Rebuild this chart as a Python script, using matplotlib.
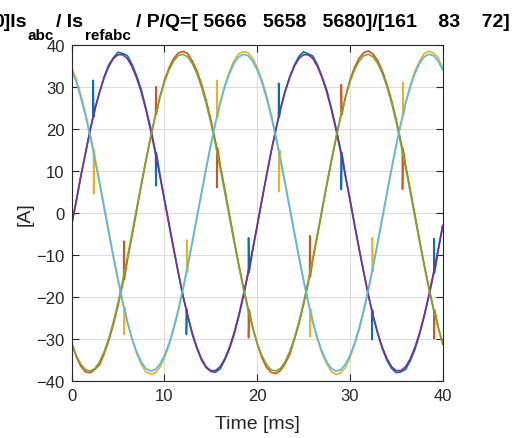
import numpy as np
import matplotlib
matplotlib.use("Agg")
import matplotlib.pyplot as plt

# time axis [ms], sampled every 0.5 ms
t_ms = [0.0, 0.5, 1.0, 1.5, 2.0, 2.5, 3.0, 3.5, 4.0, 4.5,
        5.0, 5.5, 6.0, 6.5, 7.0, 7.5, 8.0, 8.5, 9.0, 9.5,
        10.0, 10.5, 11.0, 11.5, 12.0, 12.5, 13.0, 13.5, 14.0, 14.5,
        15.0, 15.5, 16.0, 16.5, 17.0, 17.5, 18.0, 18.5, 19.0, 19.5,
        20.0, 20.5, 21.0, 21.5, 22.0, 22.5, 23.0, 23.5, 24.0, 24.5,
        25.0, 25.5, 26.0, 26.5, 27.0, 27.5, 28.0, 28.5, 29.0, 29.5,
        30.0, 30.5, 31.0, 31.5, 32.0, 32.5, 33.0, 33.5, 34.0, 34.5,
        35.0, 35.5, 36.0, 36.5, 37.0, 37.5, 38.0, 38.5, 39.0, 39.5,
        40.0]

# measured phase currents Is_abc [A]
is_a = [-2.6, 2.7, 8.9, 14.2, 19.9, 24.8, 28.6, 32.4, 35.2, 36.9, 38.2, 37.9, 37.4, 35.3, 32.6, 29.3, 24.9, 20.3, 14.9, 9.3, 3.2,
        -2.6, -8.5, -14.3, -19.9, -24.4, -28.9, -32.3, -35.1, -36.9, -37.8, -38.0, -37.2, -35.1, -32.5, -29.1, -24.9, -20.1, -14.8, -9.2, -3.2,
        2.8, 8.7, 14.5, 19.6, 24.7, 28.9, 32.3, 35.1, 37.2, 38.3, 37.8, 37.3, 35.2, 32.4, 29.2, 24.9, 20.2, 14.9, 9.1, 3.3,
        -2.7, -8.6, -14.2, -19.8, -24.6, -28.8, -32.4, -35.2, -37.1, -38.1, -37.9, -37.3, -35.3, -32.6, -29.0, -24.8, -20.0, -14.9, -9.3, -3.3]
is_b = [-31.0, -34.3, -36.6, -37.9, -38.1, -37.3, -36.2, -33.6, -30.4, -26.6,
        -22.1, -17.0, -11.4, -5.6, 0.4, 6.4, 12.2, 17.7, 22.9, 27.5,
        31.5, 34.5, 36.7, 38.0, 38.4, 37.9, 36.1, 33.8, 30.6, 26.7,
        22.2, 17.0, 11.5, 5.7, -0.3, -6.3, -12.1, -17.5, -22.6, -27.1,
        -31.2, -34.5, -36.8, -38.0, -38.3, -37.6, -36.0, -33.8, -30.3, -26.5,
        -21.9, -16.9, -11.3, -5.5, 0.5, 6.5, 12.1, 17.6, 22.8, 27.4,
        31.6, 34.6, 36.8, 38.1, 38.5, 37.7, 36.2, 33.7, 30.5, 26.6,
        22.1, 16.9, 11.4, 5.6, -0.4, -6.4, -12.2, -17.6, -22.7, -27.0,
        -31.3]
is_c = [34.5, 31.8, 27.9, 23.6, 18.7, 13.3, 7.6, 1.6, -4.3, -10.2,
        -15.8, -21.1, -26.0, -30.1, -33.5, -36.1, -37.9, -38.4, -38.2, -36.8,
        -34.6, -31.6, -27.8, -23.4, -18.4, -13.0, -7.3, -1.4, 4.5, 10.4,
        16.0, 21.3, 26.1, 30.3, 33.6, 36.2, 37.8, 38.3, 38.1, 36.8,
        34.6, 31.7, 28.0, 23.5, 18.6, 13.2, 7.5, 1.5, -4.4, -10.3,
        -15.9, -21.0, -26.1, -30.2, -33.6, -36.0, -37.8, -38.5, -38.1, -36.9,
        -34.5, -31.5, -27.9, -23.5, -18.5, -12.9, -7.4, -1.5, 4.6, 10.3,
        16.1, 21.2, 26.2, 30.2, 33.7, 36.1, 37.9, 38.4, 38.0, 36.9,
        34.4]

# switching spikes on the measured currents: time, value before, spike tip
spk_a_t = [2.3, 9.05, 12.35, 19.05, 22.3, 29.05, 32.35, 39.05]
spk_a_from = [22.8, 14.3, -23.0, -14.2, 22.7, 14.3, -23.2, -14.3]
spk_a_tip = [31.5, 6.4, -29.0, -6.0, 30.8, 5.5, -30.2, -6.2]
spk_b_t = [5.6, 9.05, 15.65, 19.05, 25.65, 29.05, 35.65, 39.05]
spk_b_from = [-15.9, 23.4, 15.4, -23.1, -15.2, 23.3, 15.2, -23.1]
spk_b_tip = [-6.8, 30.0, 6.0, -29.8, -5.5, 30.5, 5.6, -30.0]
spk_c_t = [2.35, 5.65, 12.4, 15.65, 22.35, 25.7, 32.4, 35.7]
spk_c_from = [14.9, -22.6, -14.1, 22.7, 14.8, -23.0, -14.0, 23.2]
spk_c_tip = [4.5, -29.0, -6.5, 31.5, 5.0, -29.5, -6.0, 31.0]

# reference currents Is_refabc [A]
ref_a = [-3.0, 3.0, 8.8, 14.4, 19.7, 24.5, 28.7, 32.1, 34.8, 36.7, 37.6, 37.6, 36.7, 34.8, 32.1, 28.7, 24.5, 19.7, 14.4, 8.8, 3.0,
         -3.0, -8.8, -14.4, -19.7, -24.5, -28.7, -32.1, -34.8, -36.7, -37.6, -37.6, -36.7, -34.8, -32.1, -28.7, -24.5, -19.7, -14.4, -8.8, -3.0,
         3.0, 8.8, 14.4, 19.7, 24.5, 28.7, 32.1, 34.8, 36.7, 37.6, 37.6, 36.7, 34.8, 32.1, 28.7, 24.5, 19.7, 14.4, 8.8, 3.0,
         -3.0, -8.8, -14.4, -19.7, -24.5, -28.7, -32.1, -34.8, -36.7, -37.6, -37.6, -36.7, -34.8, -32.1, -28.7, -24.5, -19.7, -14.4, -8.8, -3.0]
ref_b = [-31.1, -34.0, -36.1, -37.4, -37.7, -37.1, -35.5, -33.1, -29.9, -26.0,
         -21.4, -16.2, -10.7, -4.9, 1.0, 6.9, 12.6, 18.0, 23.0, 27.3,
         31.1, 34.0, 36.1, 37.4, 37.7, 37.1, 35.5, 33.1, 29.9, 26.0,
         21.4, 16.2, 10.7, 4.9, -1.0, -6.9, -12.6, -18.0, -23.0, -27.3,
         -31.1, -34.0, -36.1, -37.4, -37.7, -37.1, -35.5, -33.1, -29.9, -26.0,
         -21.4, -16.2, -10.7, -4.9, 1.0, 6.9, 12.6, 18.0, 23.0, 27.3,
         31.1, 34.0, 36.1, 37.4, 37.7, 37.1, 35.5, 33.1, 29.9, 26.0,
         21.4, 16.2, 10.7, 4.9, -1.0, -6.9, -12.6, -18.0, -23.0, -27.3,
         -31.1]
ref_c = [34.0, 31.1, 27.3, 23.0, 18.0, 12.6, 6.9, 1.0, -4.9, -10.7,
         -16.2, -21.4, -26.0, -29.9, -33.1, -35.5, -37.1, -37.7, -37.4, -36.1,
         -34.0, -31.1, -27.3, -23.0, -18.0, -12.6, -6.9, -1.0, 4.9, 10.7,
         16.2, 21.4, 26.0, 29.9, 33.1, 35.5, 37.1, 37.7, 37.4, 36.1,
         34.0, 31.1, 27.3, 23.0, 18.0, 12.6, 6.9, 1.0, -4.9, -10.7,
         -16.2, -21.4, -26.0, -29.9, -33.1, -35.5, -37.1, -37.7, -37.4, -36.1,
         -34.0, -31.1, -27.3, -23.0, -18.0, -12.6, -6.9, -1.0, 4.9, 10.7,
         16.2, 21.4, 26.0, 29.9, 33.1, 35.5, 37.1, 37.7, 37.4, 36.1,
         34.0]

# title pieces (main text / subscripts), left to right
title_parts = [("0]Is", False), ("abc", True), ("/ Is", False), ("refabc", True),
               ("/ P/Q=[ 5666   5658   5680]/[161    83    72]", False)]

# MATLAB default colour order
colors = ["#0072BD", "#D95319", "#EDB120", "#7E2F8E", "#77AC30", "#4DBEEE"]

plt.rcParams["font.family"] = ["Liberation Sans", "DejaVu Sans"]


def with_spikes(t, y, st, sf, sp):
    # put the spike points into the measured trace
    tt = np.concatenate([t, st, np.add(st, 0.02), np.add(st, 0.08)])
    yy = np.concatenate([y, sf, sp, sf])
    i = np.argsort(tt, kind="stable")
    return tt[i], yy[i]


W, H = 524, 439
fig = plt.figure(figsize=(W / 100, H / 100), dpi=100)
ax = fig.add_axes([0.1368, 0.1305, 0.708, 0.7655])

meas = [(is_a, spk_a_t, spk_a_from, spk_a_tip),
        (is_b, spk_b_t, spk_b_from, spk_b_tip),
        (is_c, spk_c_t, spk_c_from, spk_c_tip)]
for k, (y, st, sf, sp) in enumerate(meas):
    tt, yy = with_spikes(t_ms, y, st, sf, sp)
    ax.plot(tt, yy, color=colors[k], lw=1.2)
for k, y in enumerate([ref_a, ref_b, ref_c]):
    ax.plot(t_ms, y, color=colors[3 + k], lw=1.2)

ax.set_xlim(0, 40)
ax.set_ylim(-40, 40)
ax.set_xticks([0, 10, 20, 30, 40])
ax.set_yticks([-40, -30, -20, -10, 0, 10, 20, 30, 40])
ax.grid(True, color="#dcdcdc", lw=0.8)
ax.set_axisbelow(True)
ax.tick_params(direction="in", top=True, right=True, length=5, width=0.8,
               colors="#262626", labelsize=12, pad=5)
for s in ax.spines.values():
    s.set_color("#262626")
    s.set_linewidth(0.8)
ax.set_xlabel("Time [ms]", fontsize=14, color="#262626", labelpad=9)
ax.set_ylabel("[A]", fontsize=14, color="#262626", labelpad=2)

# title laid out right to left so its right end sits at x = 510 px;
# like the reference, its left end runs past the figure edge
renderer = fig.canvas.get_renderer()
gaps = {"/ P": 5, "ref": 2, "/ I": 2, "abc": 1}
x = 510
for txt, sub in reversed(title_parts):
    t = fig.text(x / W, 0.910 if sub else 0.938, txt, ha="right", va="baseline",
                 fontsize=11 if sub else 14, fontweight="bold", color="black")
    x = t.get_window_extent(renderer).x0 - gaps.get(txt[:3], 0)

fig.savefig("out.png", dpi=100)
